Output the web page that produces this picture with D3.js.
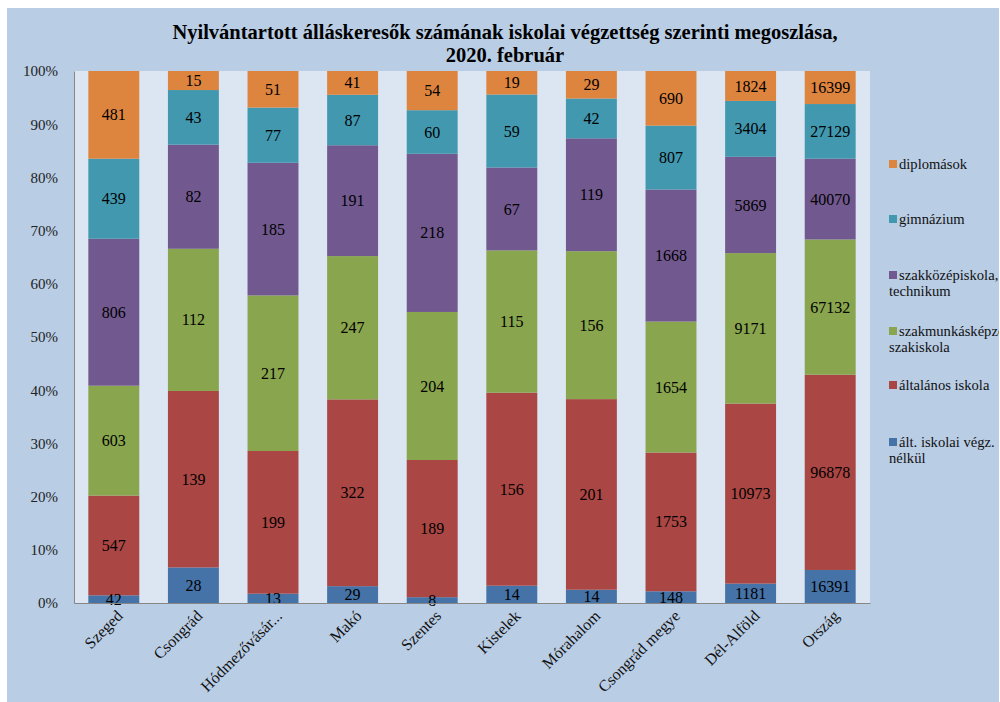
<!DOCTYPE html>
<html><head><meta charset="utf-8">
<script src="https://cdn.jsdelivr.net/npm/d3@7"></script>
<style>body{margin:0;background:#fff}svg{display:block}</style>
</head><body>
<script>
const categories = ["Szeged","Csongrád","Hódmezővásár...","Makó","Szentes","Kistelek","Mórahalom","Csongrád megye","Dél-Alföld","Ország"];
const seriesNames = ["ált. iskolai végz. nélkül","általános iskola","szakmunkásképző, szakiskola","szakközépiskola, technikum","gimnázium","diplomások"];
const altNelkul   = [42, 28, 13, 29, 8, 14, 14, 148, 1181, 16391];
const altalanos   = [547, 139, 199, 322, 189, 156, 201, 1753, 10973, 96878];
const szakmunkas  = [603, 112, 217, 247, 204, 115, 156, 1654, 9171, 67132];
const szakkozep   = [806, 82, 185, 191, 218, 67, 119, 1668, 5869, 40070];
const gimnazium   = [439, 43, 77, 87, 60, 59, 42, 807, 3404, 27129];
const diplomasok  = [481, 15, 51, 41, 54, 19, 29, 690, 1824, 16399];
const yTicks = [0,0.1,0.2,0.3,0.4,0.5,0.6,0.7,0.8,0.9,1];
const colors = ["#4572a7","#aa4643","#89a54e","#71588f","#4198af","#dd843f"];
const legendLines = [["diplomások"],["gimnázium"],["szakközépiskola,","technikum"],["szakmunkásképző,","szakiskola"],["általános iskola"],["ált. iskolai végz.","nélkül"]];
const legendColorIdx = [5,4,3,2,1,0];

const seriesValues = [altNelkul, altalanos, szakmunkas, szakkozep, gimnazium, diplomasok];
const W = 1000, H = 702;
const svg = d3.select("body").append("svg").attr("width", W).attr("height", H);
const font = "'Liberation Serif', serif";

svg.append("defs").append("clipPath").attr("id","pc").append("rect").attr("x",7).attr("y",8).attr("width",992).attr("height",694);
svg.append("rect").attr("x",7).attr("y",8).attr("width",992).attr("height",694).attr("fill","#b9cde5");

const L = 74, R = 870, T = 71, B = 603;
const x = d3.scaleBand().domain(categories).range([L, R]).paddingInner(0.36).paddingOuter(0.18);
const y = d3.scaleLinear().domain([0,1]).range([B, T]);

svg.append("rect").attr("x",L).attr("y",T).attr("width",R-L).attr("height",B-T).attr("fill","#dce6f2");

const rows = categories.map((c,i)=>{ const o={cat:c}; seriesValues.forEach((s,j)=>o["s"+j]=s[i]); return o; });
const keys = seriesValues.map((s,j)=>"s"+j);
const stack = d3.stack().keys(keys).offset(d3.stackOffsetExpand)(rows);

const g = svg.append("g");
stack.forEach((layer,j)=>{
  g.selectAll(null).data(layer).enter().append("rect")
    .attr("x", d=>x(d.data.cat)).attr("width", x.bandwidth())
    .attr("y", d=>y(d[1])).attr("height", d=>y(d[0])-y(d[1]))
    .attr("fill", colors[j]);
});
stack.forEach((layer,j)=>{
  g.selectAll(null).data(layer).enter().append("text")
    .attr("x", d=>x(d.data.cat)+x.bandwidth()/2)
    .attr("y", d=>(y(d[0])+y(d[1]))/2)
    .attr("dy","0.35em").attr("text-anchor","middle")
    .attr("font-family",font).attr("font-size",16).attr("fill","#000")
    .text(d=>d.data["s"+j]);
});

const yAxis = d3.axisLeft(y).tickValues(yTicks).tickFormat(d=>Math.round(d*100)+"%").tickSize(0).tickPadding(16);
const ya = svg.append("g").attr("transform",`translate(${L},0)`).call(yAxis);
ya.select(".domain").attr("stroke","#868686");
ya.selectAll("text").attr("font-family",font).attr("font-size",15).attr("fill","#222");

const xAxis = d3.axisBottom(x).tickSize(0).tickFormat("");
const xa = svg.append("g").attr("transform",`translate(0,${B})`).call(xAxis);
xa.select(".domain").attr("stroke","#868686");
svg.append("g").selectAll("text").data(categories).enter().append("text")
  .attr("transform", d=>`translate(${x(d)+x.bandwidth()/2+6},${B+10}) rotate(-45)`)
  .attr("text-anchor","end").attr("dy","0.35em")
  .attr("font-family",font).attr("font-size",16).attr("fill","#111")
  .text(d=>d);

const title = svg.append("text").attr("x",505).attr("text-anchor","middle")
  .attr("font-family",font).attr("font-weight","bold").attr("font-size",20.5).attr("fill","#000");
title.append("tspan").attr("x",505).attr("y",39).text("Nyilvántartott álláskeresők számának iskolai végzettség szerinti megoszlása,");
title.append("tspan").attr("x",505).attr("y",62).text("2020. február");

const legendY = [164,219,275,331,385,442];
const lg = svg.append("g").attr("clip-path","url(#pc)");
legendLines.forEach((lines,i)=>{
  lg.append("rect").attr("x",889).attr("y",legendY[i]-4).attr("width",8).attr("height",8).attr("fill",colors[legendColorIdx[i]]);
  const t = lg.append("text").attr("font-family",font).attr("font-size",14.6).attr("fill","#111");
  lines.forEach((ln,k)=>t.append("tspan").attr("x", k===0?899:889).attr("y", legendY[i]+k*16).attr("dy","0.35em").text(ln));
});
</script>
</body></html>
